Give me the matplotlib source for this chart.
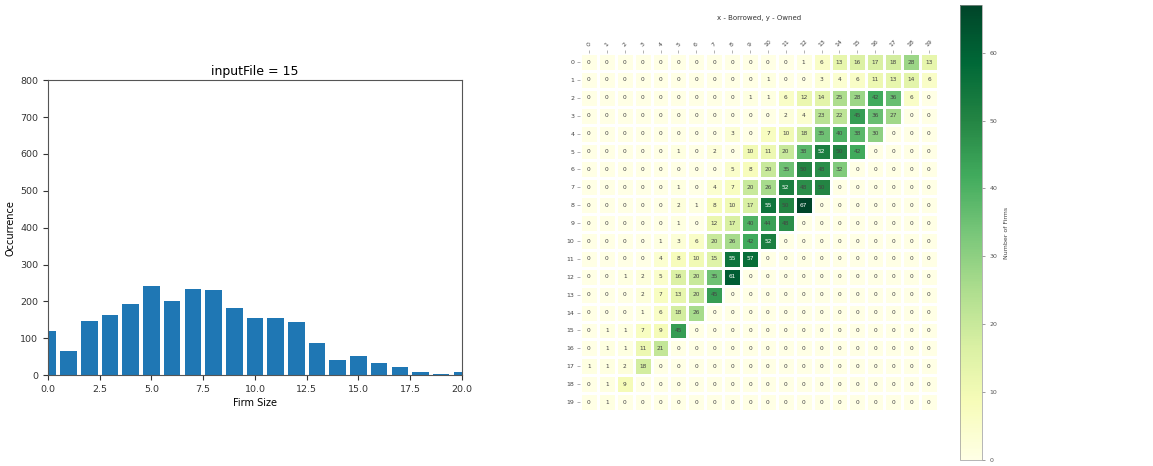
import matplotlib
matplotlib.use('Agg')
import matplotlib.pyplot as plt
import numpy as np
from matplotlib.colors import Normalize

# firm size histogram
firm_sizes = list(range(21))
occurrence = [120, 65, 146, 163, 192, 242, 200, 234, 232, 183, 156,
              154, 144, 86, 41, 53, 34, 22, 9, 3, 9]

# borrowed (x) vs owned (y) counts
borrowed_labels = [str(i) for i in range(20)]
owned_labels = [str(i) for i in range(20)]
counts = [
    [0, 0, 0, 0, 0, 0, 0, 0, 0, 0, 0, 0, 1, 6, 13, 16, 17, 18, 28, 13],
    [0, 0, 0, 0, 0, 0, 0, 0, 0, 0, 1, 0, 0, 3, 4, 6, 11, 13, 14, 6],
    [0, 0, 0, 0, 0, 0, 0, 0, 0, 1, 1, 6, 12, 14, 25, 28, 42, 36, 6, 0],
    [0, 0, 0, 0, 0, 0, 0, 0, 0, 0, 0, 2, 4, 23, 22, 45, 36, 27, 0, 0],
    [0, 0, 0, 0, 0, 0, 0, 0, 3, 0, 7, 10, 18, 35, 40, 38, 30, 0, 0, 0],
    [0, 0, 0, 0, 0, 1, 0, 2, 0, 10, 11, 20, 38, 52, 50, 42, 0, 0, 0, 0],
    [0, 0, 0, 0, 0, 0, 0, 0, 5, 8, 20, 35, 50, 48, 32, 0, 0, 0, 0, 0],
    [0, 0, 0, 0, 0, 1, 0, 4, 7, 20, 26, 52, 48, 50, 0, 0, 0, 0, 0, 0],
    [0, 0, 0, 0, 0, 2, 1, 8, 10, 17, 55, 50, 67, 0, 0, 0, 0, 0, 0, 0],
    [0, 0, 0, 0, 0, 1, 0, 12, 17, 40, 44, 48, 0, 0, 0, 0, 0, 0, 0, 0],
    [0, 0, 0, 0, 1, 3, 6, 20, 26, 42, 52, 0, 0, 0, 0, 0, 0, 0, 0, 0],
    [0, 0, 0, 0, 4, 8, 10, 15, 55, 57, 0, 0, 0, 0, 0, 0, 0, 0, 0, 0],
    [0, 0, 1, 2, 5, 16, 20, 35, 61, 0, 0, 0, 0, 0, 0, 0, 0, 0, 0, 0],
    [0, 0, 0, 2, 7, 13, 20, 45, 0, 0, 0, 0, 0, 0, 0, 0, 0, 0, 0, 0],
    [0, 0, 0, 1, 6, 18, 26, 0, 0, 0, 0, 0, 0, 0, 0, 0, 0, 0, 0, 0],
    [0, 1, 1, 7, 9, 45, 0, 0, 0, 0, 0, 0, 0, 0, 0, 0, 0, 0, 0, 0],
    [0, 1, 1, 11, 21, 0, 0, 0, 0, 0, 0, 0, 0, 0, 0, 0, 0, 0, 0, 0],
    [1, 1, 2, 18, 0, 0, 0, 0, 0, 0, 0, 0, 0, 0, 0, 0, 0, 0, 0, 0],
    [0, 1, 9, 0, 0, 0, 0, 0, 0, 0, 0, 0, 0, 0, 0, 0, 0, 0, 0, 0],
    [0, 1, 0, 0, 0, 0, 0, 0, 0, 0, 0, 0, 0, 0, 0, 0, 0, 0, 0, 0],
]

fig = plt.figure(figsize=(11.53, 4.66), dpi=100)

# ── left: histogram ──
ax1 = fig.add_axes([0.0416, 0.195, 0.359, 0.633])
ax1.bar(firm_sizes, occurrence, width=0.8, color='#1f77b4')
ax1.set_xlim(0, 20)
ax1.set_ylim(0, 800)
ax1.set_yticks(range(0, 801, 100))
ax1.set_title('inputFile = 15', fontsize=9, pad=4)
ax1.set_xlabel('Firm Size', fontsize=7, labelpad=3)
ax1.set_ylabel('Occurrence', fontsize=7, labelpad=3)
ax1.tick_params(labelsize=6.8, colors='#333333')
for sp in ax1.spines.values():
    sp.set_color('#555555')

# ── right: heatmap ──
data = np.array(counts)
cmap = plt.get_cmap('YlGn')
norm = Normalize(vmin=0, vmax=data.max())
ax2 = fig.add_axes([0.503, 0.118, 0.3105, 0.768])
mesh = ax2.pcolormesh(data, cmap=cmap, norm=norm, edgecolors='white', linewidth=0.8)
ax2.set_xlim(0, 20)
ax2.set_ylim(20, 0)
ax2.set_aspect('equal')
for sp in ax2.spines.values():
    sp.set_visible(False)

for i in range(data.shape[0]):
    for j in range(data.shape[1]):
        v = data[i, j]
        r, g, b, _ = cmap(norm(v))
        lum = 0.2126 * r + 0.7152 * g + 0.0722 * b
        ax2.text(j + 0.5, i + 0.5, str(v), ha='center', va='center',
                 fontsize=4.2, color='white' if lum < 0.408 else '#444444')

ax2.xaxis.tick_top()
ax2.set_xticks(np.arange(20) + 0.5)
ax2.set_xticklabels(borrowed_labels, rotation=45, fontsize=4.5)
ax2.set_yticks(np.arange(20) + 0.5)
ax2.set_yticklabels(owned_labels, fontsize=4.5)
ax2.tick_params(length=2, width=0.4, colors='#777777', pad=2)
for t in ax2.get_xticklabels() + ax2.get_yticklabels():
    t.set_color('#444444')
ax2.set_title('x - Borrowed, y - Owned', fontsize=5, color='#333333', pad=24)

cax = fig.add_axes([0.8326, 0.0129, 0.019, 0.976])
cb = fig.colorbar(mesh, cax=cax)
cb.set_ticks(range(0, 61, 10))
cb.ax.tick_params(labelsize=4.5, length=2, width=0.4, colors='#555555')
cb.outline.set_edgecolor('#999999')
cb.outline.set_linewidth(0.5)
cb.set_label('Number of Firms', fontsize=4.5, color='#444444', labelpad=5)

fig.savefig('out.png', dpi=100, facecolor='white')
